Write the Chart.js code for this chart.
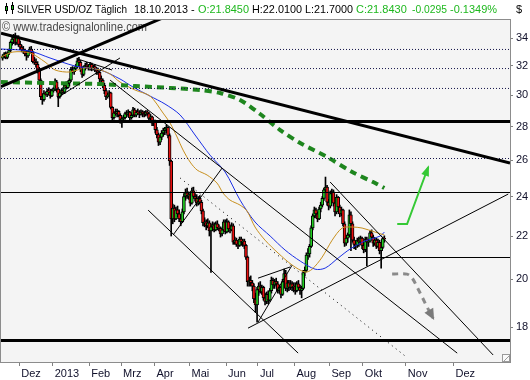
<!DOCTYPE html>
<html>
<head>
<meta charset="utf-8">
<script src="https://cdn.jsdelivr.net/npm/chart.js@4.4.0/dist/chart.umd.min.js"></script>
<style>
  html, body { margin: 0; padding: 0; background: #fff; }
  #wrap { width: 530px; height: 380px; }
</style>
</head>
<body>
<div id="wrap"><canvas id="chart" width="530" height="380"></canvas></div>
<script>
// Achse: Monatsanfänge (Balkenindex), Beschriftungen, Preisticks
const monthTicks = [11.5, 32.5, 55.5, 75.5, 96.5, 118.5, 141.5, 161.5, 184.5, 206.5, 227.5, 254.5, 284.5];
const monthLabels = ['Dez', '2013', 'Feb', 'Mrz', 'Apr', 'Mai', 'Jun', 'Jul', 'Aug', 'Sep', 'Okt', 'Nov', 'Dez'];
const priceTicks = [18, 20, 22, 24, 26, 28, 30, 32, 34];

// Tageskerzen 16.11.2012 - 18.10.2013 (Index 1..241)
const candleOpen = [
  32.55,32.70,32.85,32.60,32.90,33.10,33.70,33.95,34.05,33.70,34.10,
  33.55,33.35,33.15,33.05,32.85,32.70,33.00,33.20,33.00,32.30,32.25,32.10,31.70,31.00,29.90,29.70,30.10,30.05,30.25,30.20,29.95,
  30.30,30.40,30.90,30.40,29.90,30.15,30.30,30.20,30.65,30.50,30.80,31.00,31.75,31.60,31.80,31.95,32.35,32.25,31.80,31.40,31.90,32.05,31.95,
  31.85,32.10,31.80,31.95,31.75,31.65,31.55,31.10,31.00,30.65,30.30,29.90,30.00,30.15,29.20,28.55,28.85,28.80,28.95,28.70,
  28.40,28.50,28.55,28.80,28.75,28.90,28.55,28.70,29.05,28.70,28.90,28.85,28.75,28.90,28.80,28.75,28.90,28.80,28.50,28.60,28.20,
  28.30,27.80,27.50,27.05,27.35,27.60,27.75,27.85,27.95,27.45,25.95,22.85,23.40,22.85,23.30,23.10,22.85,22.70,23.20,24.00,24.20,24.05,
  24.10,23.65,24.30,24.00,23.90,23.65,23.90,23.70,23.25,22.65,22.70,22.50,22.65,22.25,22.45,22.55,22.30,22.60,22.42,22.38,22.10,22.30,22.70,
  22.20,22.70,22.35,22.30,22.50,21.70,21.80,21.60,21.55,21.85,21.70,21.75,21.55,21.00,19.90,19.95,19.85,19.70,19.15,18.90,
  19.55,19.70,19.45,19.65,19.20,19.05,19.35,19.10,19.50,19.95,19.75,19.90,19.80,19.50,19.65,19.35,19.90,20.25,19.60,19.85,19.65,19.80,19.65,
  19.70,19.50,19.80,19.65,19.50,19.60,20.30,20.40,21.10,21.15,21.50,22.40,23.00,23.30,23.10,22.85,23.35,23.55,23.90,24.35,24.50,23.70,
  23.50,24.15,24.25,23.65,23.20,23.95,23.45,23.10,23.30,22.60,21.65,21.90,22.05,23.05,22.60,21.80,21.60,21.55,21.80,21.70,21.90,
  21.55,21.35,21.85,21.70,21.75,22.15,21.95,21.65,21.80,21.50,21.70,21.30,21.45,21.845
];
const candleHigh = [
  32.80,32.95,33.00,32.95,33.20,33.80,34.10,34.30,34.40,34.20,34.20,
  33.80,33.50,33.40,33.20,33.10,33.10,33.35,33.40,33.05,32.60,32.50,32.30,31.90,31.10,30.10,30.30,30.20,30.40,30.50,30.40,30.40,
  30.50,31.10,31.00,30.50,30.30,30.40,30.50,30.80,30.90,30.95,31.10,31.90,31.95,31.90,32.10,32.55,32.60,32.40,31.95,32.00,32.20,32.25,32.10,
  32.25,32.20,32.05,32.10,31.90,31.85,31.60,31.30,31.10,30.80,30.40,30.15,30.30,30.20,29.25,28.95,29.10,29.10,29.00,28.80,
  28.60,28.70,28.90,29.00,29.05,28.95,28.85,29.20,29.15,29.00,29.10,29.00,29.05,29.00,28.95,29.00,29.00,28.90,28.75,28.65,28.40,
  28.40,27.95,27.60,27.45,27.75,27.90,27.95,28.10,28.00,27.55,26.00,23.60,23.55,23.45,23.50,23.30,23.00,23.35,24.15,24.40,24.45,24.25,
  24.20,24.45,24.50,24.15,24.10,24.00,24.05,23.80,23.35,22.90,22.80,22.85,22.75,22.60,22.70,22.65,22.70,22.75,22.55,22.45,22.40,22.80,22.80,
  22.85,22.75,22.55,22.65,22.60,21.95,21.90,21.75,21.95,21.95,21.85,21.85,21.60,21.05,20.10,20.15,19.95,19.80,19.40,19.65,
  19.85,19.90,19.75,19.70,19.40,19.45,19.50,19.60,20.10,20.05,20.00,20.05,19.90,19.75,19.70,20.00,20.45,20.40,19.95,19.95,19.95,19.90,19.85,
  19.85,19.90,19.95,19.75,19.70,20.40,20.55,21.20,21.40,21.60,22.50,23.10,23.45,23.40,23.20,23.45,23.70,24.00,24.45,25.05,24.60,23.85,
  24.30,24.40,24.35,23.80,24.10,24.00,23.55,23.45,23.35,22.70,22.05,22.15,23.30,23.20,22.70,21.95,21.75,21.90,21.95,22.00,21.95,
  21.70,21.95,21.95,21.85,22.25,22.30,22.05,21.90,21.90,21.85,21.80,21.60,21.95,22.01
];
const candleLow = [
  32.40,32.55,32.50,32.50,32.80,33.00,33.50,33.60,33.50,33.55,33.40,
  33.20,33.00,32.90,32.70,32.40,32.60,32.90,32.90,32.20,32.10,31.90,31.50,30.80,29.70,29.40,29.60,30.00,29.90,30.00,29.80,29.90,
  30.20,30.30,30.20,29.25,29.80,30.00,30.10,30.10,30.40,30.45,30.60,30.90,31.50,31.40,31.70,31.85,32.00,31.60,31.20,31.30,31.70,31.80,31.70,
  31.70,31.65,31.70,31.60,31.40,31.40,30.90,30.85,30.50,30.10,29.70,29.80,29.90,29.10,28.40,28.45,28.70,28.60,28.60,28.20,
  27.95,28.35,28.45,28.60,28.65,28.40,28.45,28.60,28.60,28.60,28.75,28.55,28.70,28.60,28.60,28.65,28.70,28.40,28.40,28.05,28.05,
  27.60,27.30,26.85,26.90,27.20,27.40,27.50,27.60,27.30,25.70,22.00,22.60,22.70,22.80,22.95,22.70,22.50,22.65,23.10,23.80,23.90,23.85,
  23.50,23.60,23.90,23.75,23.50,23.55,23.60,23.10,22.50,22.45,22.30,22.40,22.00,20.30,22.25,22.20,22.25,22.30,22.25,21.95,22.00,22.25,22.10,
  22.15,22.20,22.15,22.25,21.60,21.60,21.50,21.40,21.50,21.55,21.50,21.40,20.90,19.70,19.70,19.70,19.50,19.00,18.60,18.20,
  19.30,19.40,19.35,19.10,18.90,18.95,18.95,19.05,19.40,19.60,19.60,19.70,19.40,19.40,19.20,19.30,19.85,19.50,19.45,19.50,19.55,19.50,19.45,
  19.35,19.45,19.55,19.35,19.20,19.55,20.15,20.35,20.90,21.00,21.45,22.30,22.90,22.90,22.70,22.80,23.20,23.45,23.80,24.20,23.55,23.30,
  23.40,23.90,23.50,23.00,23.10,23.30,22.95,23.00,22.50,21.50,21.55,21.70,21.95,21.30,21.70,21.40,21.35,21.45,21.50,21.60,21.40,
  21.20,21.25,20.60,21.50,21.70,21.85,21.50,21.55,21.40,21.45,21.15,20.50,21.40,21.70
];
const candleClose = [
  32.70,32.85,32.60,32.90,33.10,33.70,33.95,34.05,33.70,34.10,33.55,
  33.35,33.15,33.05,32.85,32.70,33.00,33.20,33.00,32.30,32.25,32.10,31.70,31.00,29.90,29.70,30.10,30.05,30.25,30.20,29.95,30.30,
  30.40,30.90,30.40,29.90,30.15,30.30,30.20,30.65,30.50,30.80,31.00,31.75,31.60,31.80,31.95,32.35,32.25,31.80,31.40,31.90,32.05,31.95,31.85,
  32.10,31.80,31.95,31.75,31.65,31.55,31.10,31.00,30.65,30.30,29.90,30.00,30.15,29.20,28.55,28.85,28.80,28.95,28.70,28.40,
  28.50,28.55,28.80,28.75,28.90,28.55,28.70,29.05,28.70,28.90,28.85,28.75,28.90,28.80,28.75,28.90,28.80,28.50,28.60,28.20,28.30,
  27.80,27.50,27.05,27.35,27.60,27.75,27.85,27.95,27.45,25.95,22.85,23.40,22.85,23.30,23.10,22.85,22.70,23.20,24.00,24.20,24.05,24.10,
  23.65,24.30,24.00,23.90,23.65,23.90,23.70,23.25,22.65,22.70,22.50,22.65,22.25,22.45,22.55,22.30,22.60,22.40,22.38,22.10,22.30,22.70,22.20,
  22.70,22.35,22.30,22.50,21.70,21.80,21.60,21.55,21.85,21.70,21.75,21.55,21.00,19.90,19.95,19.85,19.70,19.15,18.90,19.55,
  19.70,19.45,19.65,19.20,19.05,19.35,19.10,19.50,19.95,19.75,19.90,19.80,19.50,19.65,19.35,19.90,20.25,19.60,19.85,19.65,19.80,19.65,19.70,
  19.50,19.80,19.65,19.50,19.60,20.30,20.40,21.10,21.15,21.50,22.40,23.00,23.30,23.10,22.85,23.35,23.55,23.90,24.35,24.50,23.70,23.50,
  24.15,24.25,23.65,23.20,23.95,23.45,23.10,23.30,22.60,21.65,21.90,22.05,23.05,22.60,21.80,21.60,21.55,21.80,21.70,21.90,21.55,
  21.35,21.85,21.70,21.75,22.15,21.95,21.65,21.80,21.50,21.70,21.30,21.45,21.87,21.843
];

// Gleitende Durchschnitte
const ma200Idx = [0, 30.8, 62.3, 84.3, 106.3, 125.2, 137.7, 150.3, 162.9, 175.5, 188.1, 205.0, 220.8, 235.2, 241];
const ma200Val = [30.88, 30.81, 30.74, 30.61, 30.48, 30.34, 30.14, 29.68, 28.78, 27.78, 27.00, 26.18, 25.33, 24.72, 24.45];
const maBlueIdx = [0, 18.2, 30.8, 46.5, 62.3, 74.8, 83.0, 93.7, 103.1, 112.6, 122.0, 131.4, 140.9, 150.3, 159.7, 169.2, 178.6, 188.1, 197.5, 203.8, 212.0, 219.5, 228.9, 238.4, 241];
const maBlueVal = [33.21, 33.06, 32.56, 31.99, 31.71, 31.09, 30.54, 29.94, 29.42, 28.72, 27.48, 26.29, 25.33, 23.81, 22.69, 22.00, 21.33, 20.82, 20.45, 20.50, 20.96, 21.38, 21.76, 22.00, 22.19];
const maOrangeIdx = [0, 7.5, 18.2, 27.7, 34.0, 43.4, 52.8, 62.3, 68.6, 74.8, 84.3, 93.7, 101.9, 106.3, 110.7, 114.5, 118.9, 123.3, 129.6, 135.8, 139.6, 144.0, 150.3, 154.7, 159.7, 166.0, 174.2, 183.0, 191.2, 195.6, 201.9, 208.2, 214.5, 220.8, 227.0, 235.2, 241];
const maOrangeVal = [32.63, 32.99, 32.92, 32.27, 31.71, 31.57, 31.85, 31.71, 31.43, 30.88, 30.34, 29.94, 28.84, 28.21, 27.36, 26.58, 25.89, 25.44, 25.16, 24.72, 24.18, 23.81, 23.55, 23.24, 22.44, 21.80, 21.19, 20.64, 20.32, 20.45, 21.00, 21.80, 22.39, 22.44, 22.39, 22.19, 22.05];

// Horizontale Marken
const dottedLevels = [33.176, 31.81, 30.446, 26.094];
const thickLevels = [28.31, 17.477];
const thinLevels = [24.212];
const octSupport = [[218.2, 20.983], [320, 20.983]];

// Trendlinien [index, preis]
const thickTrends = [
  [[0, 34.38], [320, 25.84]],
  [[0, 30.57], [106.3, 35.81]]
];
const thinTrends = [
  [[68.6, 31.01], [286.8, 17.0]],
  [[108.2, 22.05], [139.0, 25.55]],
  [[92.5, 23.29], [186.8, 17.0]],
  [[206.9, 24.78], [309.4, 16.93]],
  [[155.3, 17.96], [318.9, 24.13]],
  [[161.6, 18.2], [183.0, 20.63]],
  [[161.6, 20.05], [181.8, 20.55]],
  [[35.2, 29.81], [74.8, 32.56]],
  [[48.4, 32.48], [69.8, 31.71]]
];
const dottedTrend = [[112.6, 25.0], [254.1, 16.89]];

// Prognosepfeile
const greenArrowIdx = [249.1, 255.3, 268.6];
const greenArrowVal = [22.59, 22.59, 25.61];
const greyArrowIdx = [245.9, 255.3, 258.5, 261.6, 264.8, 267.9, 271.7];
const greyArrowVal = [20.23, 20.23, 20.05, 19.66, 19.23, 18.81, 18.36];

const FONT = '"Liberation Sans", Arial, sans-serif';
const GREEN = '#22cc22';
const RED = '#e81010';

function pts(idx, val) {
  return idx.map((x, k) => ({ x: x, y: val[k] }));
}

function lineDs(points, color, width, dash, order, tension) {
  return {
    type: 'line',
    data: points.map(p => ({ x: p[0], y: p[1] })),
    borderColor: color,
    borderWidth: width,
    borderDash: dash || [],
    pointRadius: 0,
    fill: false,
    tension: tension || 0,
    order: order,
    clip: 0
  };
}

const wickData = candleHigh.map((h, k) => ({ x: k + 1, y: [candleLow[k], h] }));
const bodyData = candleOpen.map((o, k) => ({ x: k + 1, y: [o, candleClose[k]] }));
const bodyColors = candleOpen.map((o, k) => candleClose[k] >= o ? GREEN : RED);

const datasets = [
  { type: 'bar', data: wickData, backgroundColor: '#000', barThickness: 1, grouped: false, order: 50 },
  { type: 'bar', data: bodyData, backgroundColor: bodyColors, borderColor: '#000', borderWidth: 1,
    borderSkipped: false, barThickness: 3, minBarLength: 1, grouped: false, order: 49 },
  { type: 'line', data: pts(maBlueIdx, maBlueVal), borderColor: '#1a2fe6', borderWidth: 1, pointRadius: 0, tension: 0.3, order: 20, clip: 0 },
  { type: 'line', data: pts(maOrangeIdx, maOrangeVal), borderColor: '#c8901e', borderWidth: 1, pointRadius: 0, tension: 0.3, order: 19, clip: 0 },
  { type: 'line', data: pts(ma200Idx, ma200Val), borderColor: '#1e861e', borderWidth: 4, borderDash: [7, 5], pointRadius: 0, tension: 0.3, order: 18, clip: 0 }
];
dottedLevels.forEach(v => datasets.push(lineDs([[0, v], [320, v]], '#14144a', 1, [1, 2], 10)));
thickLevels.forEach(v => datasets.push(lineDs([[0, v], [320, v]], '#000', 3, [], 9)));
thinLevels.forEach(v => datasets.push(lineDs([[0, v], [320, v]], '#000', 1, [], 9)));
datasets.push(lineDs(octSupport, '#000', 1, [], 9));
thickTrends.forEach(t => datasets.push(lineDs(t, '#000', 3, [], 8)));
thinTrends.forEach(t => datasets.push(lineDs(t, '#000', 1, [], 8)));
datasets.push(lineDs(dottedTrend, '#000', 1, [1, 4], 8));
datasets.push({ type: 'line', data: pts(greyArrowIdx, greyArrowVal), borderColor: '#8a8a8a', borderWidth: 3,
  borderDash: [6, 5], pointRadius: 0, tension: 0.35, order: 2, clip: 0 });
datasets.push({ type: 'line', data: pts(greenArrowIdx, greenArrowVal), borderColor: '#35c935', borderWidth: 2,
  pointRadius: 0, tension: 0, order: 1, clip: 0 });

function arrowHead(ctx, x0, y0, x1, y1, len, half, color) {
  const ang = Math.atan2(y1 - y0, x1 - x0);
  ctx.save();
  ctx.translate(x1, y1);
  ctx.rotate(ang);
  ctx.beginPath();
  ctx.moveTo(2, 0);
  ctx.lineTo(-len, -half);
  ctx.lineTo(-len, half);
  ctx.closePath();
  ctx.fillStyle = color;
  ctx.fill();
  ctx.restore();
}

const decor = {
  id: 'decor',
  beforeDraw(chart) {
    const { ctx, chartArea: a } = chart;
    ctx.save();
    ctx.fillStyle = '#fff';
    ctx.fillRect(0, 0, chart.width, chart.height);
    ctx.fillStyle = '#f4f4f4';
    ctx.fillRect(a.left, a.top, a.right - a.left, a.bottom - a.top);
    ctx.restore();
  },
  beforeDatasetsDraw(chart) {
    const ctx = chart.ctx;
    ctx.save();
    ctx.font = '13px ' + FONT;
    ctx.fillStyle = '#4a4a4a';
    ctx.textBaseline = 'alphabetic';
    ctx.fillText('\u00a9 www.tradesignalonline.com', 2, 31, 145);
    ctx.restore();
  },
  afterDatasetsDraw(chart) {
    const ctx = chart.ctx;
    const xs = chart.scales.x, ys = chart.scales.y;
    const n = greenArrowIdx.length, m = greyArrowIdx.length;
    arrowHead(ctx,
      xs.getPixelForValue(greenArrowIdx[n - 2]), ys.getPixelForValue(greenArrowVal[n - 2]),
      xs.getPixelForValue(greenArrowIdx[n - 1]), ys.getPixelForValue(greenArrowVal[n - 1]), 9, 4, '#35c935');
    arrowHead(ctx,
      xs.getPixelForValue(greyArrowIdx[m - 2]), ys.getPixelForValue(greyArrowVal[m - 2]),
      xs.getPixelForValue(greyArrowIdx[m - 1]), ys.getPixelForValue(greyArrowVal[m - 1]), 9, 5, '#7a7a7a');
  },
  afterDraw(chart) {
    const { ctx, chartArea: a } = chart;
    ctx.save();
    // Rahmen
    ctx.strokeStyle = '#8c8c8c';
    ctx.lineWidth = 1;
    ctx.strokeRect(a.left - 0.5, a.top - 0.5, a.right - a.left + 1, a.bottom - a.top + 1);
    // Ecksymbol
    ctx.fillStyle = '#fafafa';
    ctx.fillRect(a.right - 8, a.bottom - 8, 8, 8);
    ctx.strokeStyle = '#9a9a9a';
    ctx.strokeRect(a.right - 7.5, a.bottom - 7.5, 7, 7);
    ctx.beginPath();
    ctx.moveTo(a.right - 6, a.bottom - 1);
    ctx.lineTo(a.right - 1, a.bottom - 6);
    ctx.stroke();
    // Symbol im Kopf
    [[5, 3, 14, 6, 11], [11, 2, 14, 5, 10]].forEach(c => {
      ctx.fillStyle = '#000';
      ctx.fillRect(c[0] + 1, c[1], 1, c[2] - c[1]);
      ctx.fillRect(c[0], c[3], 3, c[4] - c[3]);
      ctx.fillStyle = GREEN;
      ctx.fillRect(c[0] + 1, c[3] + 1, 1, c[4] - c[3] - 2);
    });
    // Kopfzeile
    ctx.font = '11px ' + FONT;
    ctx.textBaseline = 'alphabetic';
    const segs = [
      ['SILVER USD/OZ T\u00e4glich', 17, 110, '#000'],
      ['18.10.2013', 134, 54, '#000'],
      ['-', 191, 5, '#000'],
      ['O:21.8450', 198, 51, '#1eb81e'],
      ['H:22.0100', 252, 50, '#000'],
      ['L:21.7000', 305, 48, '#000'],
      ['C:21.8430', 356, 52, '#1eb81e'],
      ['-0.0295', 412, 35, '#1eb81e'],
      ['-0.1349%', 450, 47, '#1eb81e'],
      ['$', 516, 8, '#000']
    ];
    segs.forEach(s => {
      ctx.fillStyle = s[3];
      ctx.fillText(s[0], s[1], 13, s[2]);
    });
    ctx.restore();
  }
};

new Chart(document.getElementById('chart'), {
  type: 'bar',
  data: { datasets: datasets },
  plugins: [decor],
  options: {
    responsive: false,
    animation: false,
    devicePixelRatio: 1,
    layout: { padding: { top: 20, left: 1, right: 0, bottom: 0 } },
    plugins: { legend: { display: false }, tooltip: { enabled: false } },
    scales: {
      x: {
        type: 'linear',
        min: 0,
        max: 320,
        offset: false,
        afterFit: s => { s.height = 18; },
        afterBuildTicks: s => { s.ticks = monthTicks.map(v => ({ value: v })); },
        grid: { offset: false, drawOnChartArea: false, drawTicks: true, tickLength: 4, tickColor: '#808080' },
        border: { display: true, color: '#8c8c8c' },
        ticks: {
          autoSkip: false, maxRotation: 0, minRotation: 0, align: 'start', labelOffset: 2, padding: 1,
          color: '#10102a', font: { family: FONT, size: 11 },
          callback: (v, i) => monthLabels[i]
        }
      },
      y: {
        type: 'logarithmic',
        position: 'right',
        min: 16.67,
        max: 35.4,
        afterFit: s => { s.width = 20; },
        afterBuildTicks: s => { s.ticks = priceTicks.map(v => ({ value: v })); },
        grid: { drawOnChartArea: false, drawTicks: true, tickLength: 3, tickColor: '#808080' },
        border: { display: true, color: '#8c8c8c' },
        ticks: {
          autoSkip: false, padding: 3, color: '#10102a', font: { family: FONT, size: 11 },
          callback: v => String(v)
        }
      }
    }
  }
});
</script>
</body>
</html>
